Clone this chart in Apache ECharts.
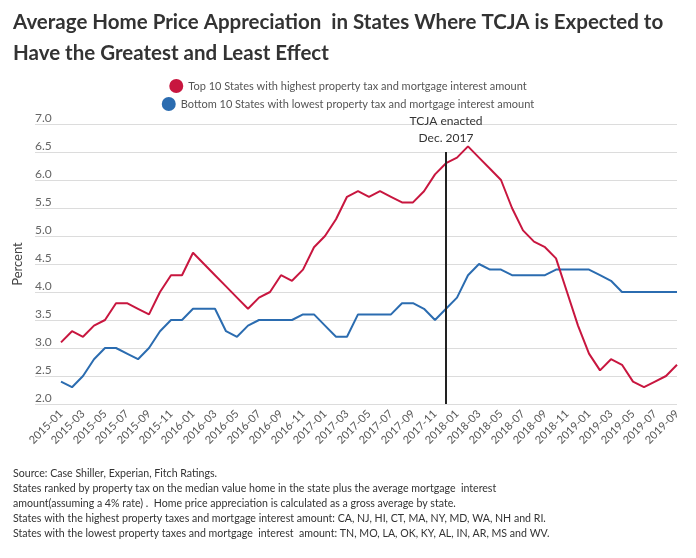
<!DOCTYPE html>
<html>
<head>
<meta charset="utf-8">
<style>
  html, body { margin: 0; padding: 0; background: #fff; }
  #chart { width: 696px; height: 558px; }
</style>
<script src="https://cdn.jsdelivr.net/npm/echarts@6/dist/echarts.min.js"></script>
</head>
<body>
<div id="chart"></div>
<script>
// months 2015-01 .. 2019-09
const months = [];
for (let y = 2015; y <= 2019; y++) {
  for (let m = 1; m <= 12; m++) {
    if (y === 2019 && m > 9) break;
    months.push(y + '-' + String(m).padStart(2, '0'));
  }
}

const topStates = [
  3.1, 3.3, 3.2, 3.4, 3.5, 3.8, 3.8, 3.7, 3.6, 4.0, 4.3, 4.3,
  4.7, 4.5, 4.3, 4.1, 3.9, 3.7, 3.9, 4.0, 4.3, 4.2, 4.4, 4.8,
  5.0, 5.3, 5.7, 5.8, 5.7, 5.8, 5.7, 5.6, 5.6, 5.8, 6.1, 6.3,
  6.4, 6.6, 6.4, 6.2, 6.0, 5.5, 5.1, 4.9, 4.8, 4.6, 4.0, 3.4,
  2.9, 2.6, 2.8, 2.7, 2.4, 2.3, 2.4, 2.5, 2.7
];
const bottomStates = [
  2.4, 2.3, 2.5, 2.8, 3.0, 3.0, 2.9, 2.8, 3.0, 3.3, 3.5, 3.5,
  3.7, 3.7, 3.7, 3.3, 3.2, 3.4, 3.5, 3.5, 3.5, 3.5, 3.6, 3.6,
  3.4, 3.2, 3.2, 3.6, 3.6, 3.6, 3.6, 3.8, 3.8, 3.7, 3.5, 3.7,
  3.9, 4.3, 4.5, 4.4, 4.4, 4.3, 4.3, 4.3, 4.3, 4.4, 4.4, 4.4,
  4.4, 4.3, 4.2, 4.0, 4.0, 4.0, 4.0, 4.0, 4.0
];

const topName = 'Top 10 States with highest property tax and mortgage interest amount';
const bottomName = 'Bottom 10 States with lowest property tax and mortgage interest amount';
const tcjaMonth = '2017-12';

const footnotes = [
  'Source: Case Shiller, Experian, Fitch Ratings.',
  'States ranked by property tax on the median value home in the state plus the average mortgage  interest',
  'amount(assuming a 4% rate) .  Home price appreciation is calculated as a gross average by state.',
  'States with the highest property taxes and mortgage interest amount: CA, NJ, HI, CT, MA, NY, MD, WA, NH and RI.',
  'States with the lowest property taxes and mortgage  interest  amount: TN, MO, LA, OK, KY, AL, IN, AR, MS and WV.'
];

const RED = '#c8163f';
const BLUE = '#2b6cb0';
const GRID = '#dcdcdc';
const FONT = 'Lato';

const chart = echarts.init(document.getElementById('chart'));

chart.setOption({
  backgroundColor: '#fff',
  textStyle: { fontFamily: FONT },
  title: [
    {
      text: 'Average Home Price Appreciation  in States Where TCJA is Expected to\nHave the Greatest and Least Effect',
      left: 8,
      top: 2,
      textStyle: { fontFamily: FONT, fontSize: 20.5, fontWeight: 'bold', color: '#333', lineHeight: 31 }
    },
    {
      text: footnotes.join('\n'),
      left: 8,
      top: 461,
      textStyle: { fontFamily: FONT, fontSize: 10.6, fontWeight: 'normal', color: '#333', lineHeight: 15 }
    }
  ],
  legend: [
    {
      data: [topName],
      left: 'center',
      top: 74,
      icon: 'circle',
      itemWidth: 14,
      itemHeight: 14,
      itemGap: 4,
      textStyle: { fontFamily: FONT, fontSize: 11, color: '#555' }
    },
    {
      data: [bottomName],
      left: 'center',
      top: 92,
      icon: 'circle',
      itemWidth: 14,
      itemHeight: 14,
      textStyle: { fontFamily: FONT, fontSize: 11, color: '#555' }
    }
  ],
  grid: { left: 61, right: 19, top: 124, bottom: 154 },
  xAxis: {
    type: 'category',
    data: months,
    boundaryGap: false,
    axisLine: { show: false },
    axisTick: { show: false },
    axisLabel: {
      interval: 1,
      rotate: 45,
      margin: 8,
      fontFamily: FONT,
      fontSize: 11,
      color: '#555'
    }
  },
  yAxis: {
    type: 'value',
    min: 2,
    max: 7,
    interval: 0.5,
    name: 'Percent',
    nameLocation: 'middle',
    nameGap: 35,
    nameTextStyle: { fontFamily: FONT, fontSize: 13, color: '#444' },
    axisLine: { show: false },
    axisTick: { show: true, length: 26, lineStyle: { color: GRID } },
    axisLabel: {
      align: 'left',
      verticalAlign: 'bottom',
      margin: 26,
      fontFamily: FONT,
      fontSize: 12,
      color: '#666',
      formatter: v => v.toFixed(1)
    },
    splitLine: { lineStyle: { color: GRID } }
  },
  series: [
    {
      name: topName,
      type: 'line',
      data: topStates,
      color: RED,
      symbol: 'none',
      lineStyle: { width: 2 },
      z: 3,
      markLine: {
        silent: true,
        symbol: 'none',
        lineStyle: { color: '#222', width: 2, type: 'solid' },
        label: {
          position: 'end',
          distance: 5,
          formatter: 'TCJA enacted\nDec. 2017',
          fontFamily: FONT,
          fontSize: 12,
          color: '#333',
          lineHeight: 17
        },
        data: [[{ xAxis: tcjaMonth, yAxis: 2 }, { xAxis: tcjaMonth, yAxis: 6.5 }]]
      }
    },
    {
      name: bottomName,
      type: 'line',
      data: bottomStates,
      color: BLUE,
      symbol: 'none',
      lineStyle: { width: 2 },
      z: 2
    }
  ]
});
</script>
</body>
</html>
